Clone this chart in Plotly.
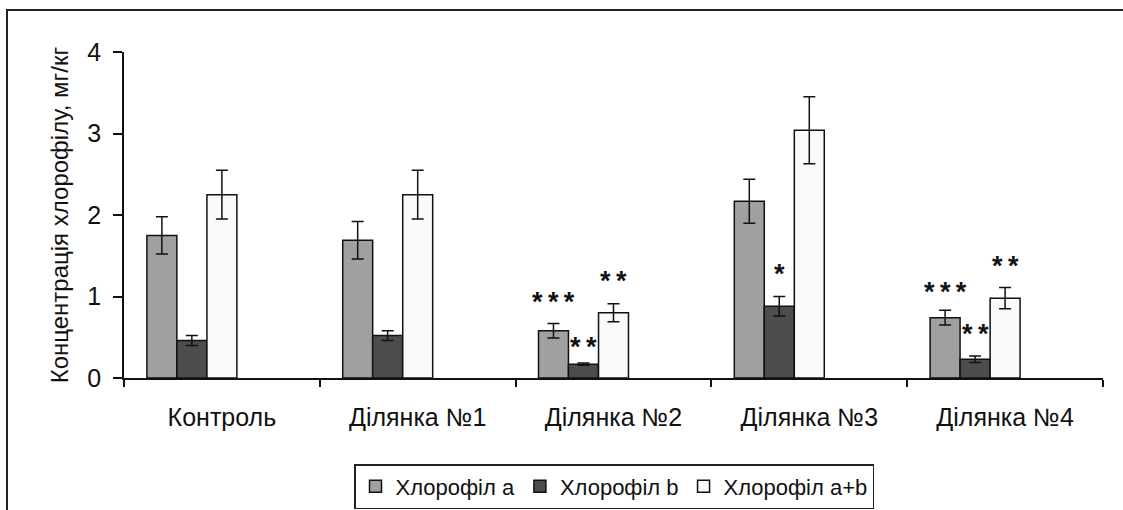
import plotly.graph_objects as go

categories = ["Контроль", "Ділянка №1", "Ділянка №2", "Ділянка №3", "Ділянка №4"]
chl_a = [1.75, 1.69, 0.58, 2.17, 0.74]
chl_a_err = [0.23, 0.23, 0.09, 0.27, 0.09]
chl_b = [0.46, 0.52, 0.17, 0.88, 0.23]
chl_b_err = [0.06, 0.06, 0.015, 0.12, 0.04]
chl_ab = [2.25, 2.25, 0.80, 3.04, 0.98]
chl_ab_err = [0.30, 0.30, 0.11, 0.41, 0.13]
series_names = ["Хлорофіл a", "Хлорофіл b", "Хлорофіл a+b"]
y_ticks = [0, 1, 2, 3, 4]
y_title = "Концентрація хлорофілу, мг/кг"

# significance marks: (category index, series index, text, y of mark centre)
stars_cat = [2, 2, 2, 3, 4, 4, 4]
stars_series = [0, 1, 2, 1, 0, 1, 2]
stars_text = ["***", "**", "**", "*", "***", "**", "**"]
stars_y = [1.00, 0.445, 1.255, 1.335, 1.12, 0.60, 1.43]

FONT = "Liberation Sans, Arial, sans-serif"
colors = ["#a0a0a0", "#4d4d4d", "#fafafa"]
bar_w = 0.153
offsets = [-0.383, -0.230, -0.0765]

fig = go.Figure()
for name, vals, errs, col, off in zip(series_names,
                                      [chl_a, chl_b, chl_ab],
                                      [chl_a_err, chl_b_err, chl_ab_err],
                                      colors, offsets):
    fig.add_trace(go.Bar(
        x=categories, y=vals, name=name,
        width=bar_w, offset=off,
        marker=dict(color=col, line=dict(color="#111111", width=1.5)),
        error_y=dict(type="data", array=errs, visible=True,
                     color="#111111", thickness=1.5, width=6),
    ))

for ci, si, txt, yv in zip(stars_cat, stars_series, stars_text, stars_y):
    xpos = ci + offsets[si] + bar_w / 2
    fig.add_annotation(
        x=xpos, y=yv, xref="x", yref="y",
        text="\u2009".join(list(txt)),
        showarrow=False, yanchor="middle", xanchor="center", yshift=-5,
        font=dict(family=FONT, size=27, color="#111111", weight="bold"),
    )

L, R, T, B = 124, 20, 52, 132
W, H = 1123, 510
pw, ph = W - L - R, H - T - B

def px_x(p):
    return (p - L) / pw

def px_y(p):
    return (H - B - p) / ph

fig.add_shape(type="rect", xref="paper", yref="paper",
              x0=px_x(7), x1=px_x(1140), y0=px_y(10), y1=px_y(530),
              line=dict(color="#222222", width=2), fillcolor="rgba(0,0,0,0)",
              layer="below")

fig.update_layout(
    width=W, height=H,
    margin=dict(l=L, r=R, t=T, b=B, pad=0, autoexpand=False),
    paper_bgcolor="white", plot_bgcolor="white",
    barmode="overlay",
    font=dict(family=FONT, size=23, color="#111111"),
    showlegend=True,
    legend=dict(orientation="h", xref="container", yref="container",
                x=614 / W, y=1 - 464 / H,
                xanchor="center", yanchor="top",
                bordercolor="#222222", borderwidth=1.5,
                font=dict(family=FONT, size=22, color="#111111"),
                itemwidth=30, tracegroupgap=0),
    xaxis=dict(type="category", showline=True, linecolor="#111111", linewidth=1.5,
               ticks="outside", tickson="boundaries", ticklen=7, tickwidth=1.5,
               tickcolor="#111111", showgrid=False, zeroline=False,
               automargin=False, ticklabelstandoff=16,
               tickfont=dict(family=FONT, size=25, color="#111111")),
    yaxis=dict(range=[0, 4], tickvals=y_ticks, showline=True, linecolor="#111111",
               linewidth=1.5, ticks="outside", ticklen=9, tickwidth=1.5,
               tickcolor="#111111", showgrid=False, zeroline=False,
               automargin=False, ticklabelstandoff=7,
               tickfont=dict(family=FONT, size=25, color="#111111"),
               title=dict(text=y_title, standoff=12,
                          font=dict(family=FONT, size=24, color="#111111"))),
)

fig.write_html("out.html",
               config={"displayModeBar": False},
               post_script="document.body.style.margin='0';document.body.style.padding='0';")
